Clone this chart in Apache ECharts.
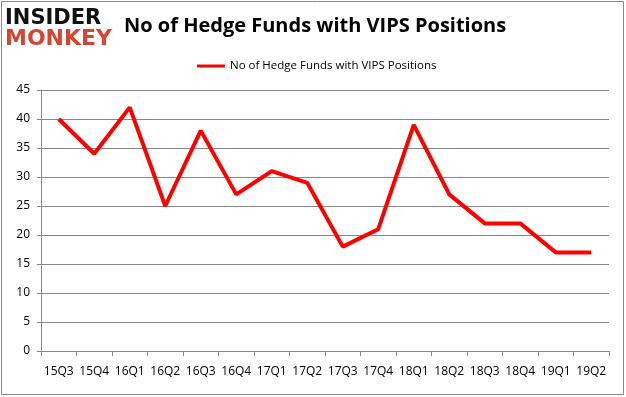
<!DOCTYPE html>
<html>
<head>
    <meta charset="utf-8">
    <title>No of Hedge Funds with VIPS Positions</title>
    <script type="text/javascript" src="https://cdn.jsdelivr.net/npm/echarts@6/dist/echarts.min.js"></script>
    <style>
        html, body { margin: 0; padding: 0; background: #fff; }
    </style>
</head>
<body>
    <div id="main" style="width:626px; height:397px;"></div>
    <script type="text/javascript">
    // 数据
    var quarters = ['15Q3', '15Q4', '16Q1', '16Q2', '16Q3', '16Q4', '17Q1', '17Q2',
                    '17Q3', '17Q4', '18Q1', '18Q2', '18Q3', '18Q4', '19Q1', '19Q2'];
    var hedgeFunds = [40, 34, 42, 25, 38, 27, 31, 29, 18, 21, 39, 27, 22, 22, 17, 17];
    var seriesName = 'No of Hedge Funds with VIPS Positions';

    var myChart = echarts.init(document.getElementById('main'));

    var option = {
        backgroundColor: '#fff',
        animation: false,
        textStyle: { fontFamily: '"Open Sans", "DejaVu Sans", sans-serif' },
        title: {
            text: 'No of Hedge Funds with VIPS Positions',
            left: 119,
            top: 11,
            textStyle: {
                color: '#000',
                fontSize: 20,
                fontWeight: 'bold',
                fontFamily: '"Open Sans", sans-serif'
            }
        },
        legend: {
            top: 55,
            left: 192,
            itemWidth: 28,
            itemHeight: 3,
            itemGap: 4,
            icon: 'rect',
            textStyle: { color: '#000', fontSize: 11.5 },
            data: [seriesName]
        },
        graphic: [
            {
                type: 'rect',
                shape: { x: 1.5, y: 1.5, width: 622, height: 393 },
                style: { fill: 'none', stroke: '#888', lineWidth: 1 }
            },
            {
                type: 'text',
                left: 5, top: 8,
                style: { text: 'INSIDER', fill: '#111', font: '900 21px "DejaVu Sans", sans-serif' }
            },
            {
                type: 'text',
                left: 5, top: 28,
                style: { text: 'MONKEY', fill: '#d64530', font: '900 22px "DejaVu Sans", sans-serif' }
            }
        ],
        grid: {
            left: 41,
            right: 17,
            top: 90,
            bottom: 46
        },
        xAxis: {
            type: 'category',
            boundaryGap: true,
            data: quarters,
            axisLine: { lineStyle: { color: '#888' } },
            axisTick: { show: true, length: 5, lineStyle: { color: '#888' } },
            axisLabel: { color: '#000', fontSize: 12, margin: 15, interval: 0 }
        },
        yAxis: {
            type: 'value',
            min: 0,
            max: 45,
            interval: 5,
            axisLine: { show: true, lineStyle: { color: '#888' } },
            axisTick: { show: true, length: 4, lineStyle: { color: '#888' } },
            axisLabel: { color: '#000', fontSize: 12, margin: 11 },
            splitLine: { lineStyle: { color: '#888', width: 1 } }
        },
        series: [
            {
                name: seriesName,
                type: 'line',
                data: hedgeFunds,
                symbol: 'none',
                color: '#ff0000',
                lineStyle: { width: 4, color: '#ff0000' }
            }
        ]
    };

    myChart.setOption(option);
    </script>
</body>
</html>
